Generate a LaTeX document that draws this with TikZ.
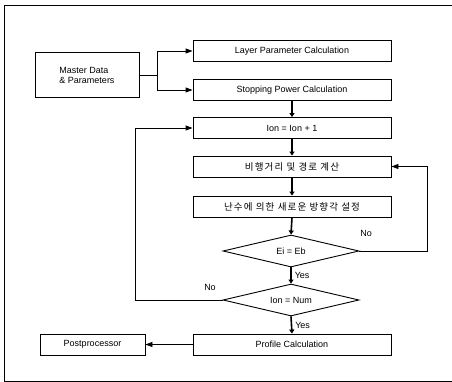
\documentclass[tikz,border=0pt]{standalone}
\usepackage{fontspec}
\setmainfont{Liberation Sans}
\newfontfamily\kr[LetterSpace=12]{Noto Sans CJK KR}
\usetikzlibrary{shapes.geometric,arrows.meta}

\begin{document}
\begin{tikzpicture}[x=1pt, y=-1pt,
  box/.style={draw, line width=0.9pt, minimum width=198pt, minimum height=21pt, inner sep=0pt, font=\fontsize{9}{10}\selectfont},
  test/.style={draw, diamond, line width=0.9pt, aspect=4.25, minimum width=136pt, minimum height=32pt, inner sep=0pt, font=\fontsize{9}{10}\selectfont},
  note/.style={font=\fontsize{9}{10}\selectfont, inner sep=1pt},
  arr/.style={line width=0.9pt, -{Triangle[length=7pt,width=5pt]}},
  down/.style={line width=1.6pt, -{Triangle[length=4pt,width=5pt]}}]
  \useasboundingbox (0,0) rectangle (452,382);
  \draw[line width=0.8pt] (452,5) -- (4,5) -- (4,381) -- (452,381);
  \node[box, minimum width=104pt, minimum height=45pt, align=left] (master) at (87,75) {Master Data\\\& Parameters};
  \node[box] (layer) at (292,51) {Layer Parameter Calculation};
  \node[box] (stop) at (292,90) {Stopping Power Calculation};
  \node[box] (ion) at (292,128) {Ion = Ion + 1};
  \node[box, font=\kr\fontsize{9.5}{10}\selectfont] (fly) at (292,166.5) {비행거리 및 경로 계산};
  \node[box, font=\kr\fontsize{9.5}{10}\selectfont] (rand) at (292,206.5) {난수에 의한 새로운 방향각 설정};
  \node[test] (ei) at (291,251) {Ei = Eb};
  \node[test] (num) at (291,300) {Ion = Num};
  \node[box] (prof) at (292,344.5) {Profile Calculation};
  \node[box, minimum width=105pt] (post) at (92.5,344.5) {Postprocessor};
  \coordinate (split) at (157,75);
  \coordinate (lft) at (135,0);
  \coordinate (rgt) at (427,0);
  \draw[arr] (master.east) -- (split) |- (layer.west);
  \draw[arr] (split) |- (stop.west);
  \draw[down] (stop.south) -- (ion.north);
  \draw[down] (ion.south) -- (fly.north);
  \draw[down] (fly.south) -- (rand.north);
  \draw[down] (rand.south) -- (ei.north);
  \draw[down] (ei.south) -- node[note, right, xshift=2pt] {Yes} (num.north);
  \draw[down] (num.south) -- node[note, right, xshift=2pt] {Yes} (prof.north);
  \draw[arr] (ei.east) -- (ei.east -| rgt) |- (fly.east);
  \draw[arr] (num.west) -- (num.west -| lft) |- (ion.west);
  \draw[arr, line width=0.6pt] (prof.west) -- (post.east);
  \node[note] (no1) at (366,233) {No};
  \node[note] (no2) at (210,287) {No};
\end{tikzpicture}
\end{document}
